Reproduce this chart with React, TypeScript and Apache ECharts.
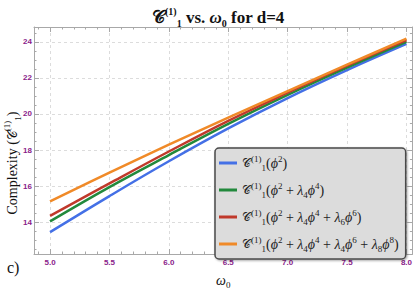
import React, { useEffect, useRef } from 'react';
import * as echarts from 'echarts';

// omega_0 values (x)
const omega = [5.0, 5.5, 6.0, 6.5, 7.0, 7.5, 8.0];
// Complexity values for the four potentials
const cPhi2 = [13.45, 15.45, 17.38, 19.2, 20.88, 22.43, 23.88];
const cPhi4 = [14.05, 15.95, 17.72, 19.45, 21.06, 22.57, 24.0];
const cPhi6 = [14.35, 16.15, 17.92, 19.62, 21.18, 22.68, 24.1];
const cPhi8 = [15.15, 16.75, 18.3, 19.8, 21.27, 22.73, 24.17];

const seriesNames = [
  '𝒞₁⁽¹⁾(ϕ²)',
  '𝒞₁⁽¹⁾(ϕ² + λ₄ϕ⁴)',
  '𝒞₁⁽¹⁾(ϕ² + λ₄ϕ⁴ + λ₆ϕ⁶)',
  '𝒞₁⁽¹⁾(ϕ² + λ₄ϕ⁴ + λ₄ϕ⁶ + λ₈ϕ⁸)',
];
const seriesColors = ['#4470e6', '#22893c', '#c0392b', '#f08a28'];
const seriesData = [cPhi2, cPhi4, cPhi6, cPhi8];

const C = '{c|𝒞}{sup|(1)}{sub|1}';
const phi = (n: number) => `{i|ϕ}{sup|${n}}`;
const lam = (n: number) => `{i|λ}{sub|${n}}`;
const legendRich = [
  `${C}(${phi(2)})`,
  `${C}(${phi(2)} + ${lam(4)}${phi(4)})`,
  `${C}(${phi(2)} + ${lam(4)}${phi(4)} + ${lam(6)}${phi(6)})`,
  `${C}(${phi(2)} + ${lam(4)}${phi(4)} + ${lam(4)}${phi(6)} + ${lam(8)}${phi(8)})`,
];

const SERIF = '"Liberation Serif", "DejaVu Serif", serif';
const SANS = '"Liberation Sans", Arial, sans-serif';
const PURPLE = '#8a1c8a';
const FRAME = '#a8a8a8';

export default function App() {
  const ref = useRef<HTMLDivElement>(null);
  useEffect(() => {
    if (!ref.current) return;
    const chart = echarts.init(ref.current, undefined, { renderer: 'svg' });
    const smallRich = {
      c: { fontSize: 12, fontFamily: SERIF, lineHeight: 18 },
      sup: { fontSize: 9, fontFamily: SERIF, verticalAlign: 'top', lineHeight: 12 },
      sub: { fontSize: 9, fontFamily: SERIF, verticalAlign: 'bottom', lineHeight: 12 },
      i: { fontSize: 14, fontFamily: SERIF, fontStyle: 'italic', lineHeight: 18 },
    };
    const xTick = {
      inside: true,
      length: 5,
      lineStyle: { color: FRAME },
    };
    const option: any = {
      animation: false,
      title: {
        text: '{c|𝒞}{sup|(1)}{sub|1}{b| vs. }{w|ω}{s0|0}{b| for d=4}',
        left: 147,
        top: 1,
        textStyle: {
          fontFamily: SERIF,
          fontWeight: 'bold',
          fontSize: 17,
          color: '#111',
          rich: {
            c: { fontSize: 18, fontFamily: SERIF, lineHeight: 22, color: '#111' },
            sup: { fontSize: 10, fontFamily: SERIF, fontWeight: 'bold', verticalAlign: 'top', lineHeight: 12, color: '#111' },
            sub: { fontSize: 10, fontFamily: SERIF, fontWeight: 'bold', verticalAlign: 'bottom', lineHeight: 10, color: '#111' },
            b: { fontSize: 17, fontFamily: SERIF, fontWeight: 'bold', lineHeight: 22, color: '#111' },
            w: { fontSize: 17, fontFamily: SERIF, fontStyle: 'italic', lineHeight: 22, color: '#111' },
            s0: { fontSize: 10, fontFamily: SERIF, fontWeight: 'bold', verticalAlign: 'bottom', lineHeight: 10, color: '#111' },
          },
        },
      },
      grid: { left: 34, right: 2, top: 27, bottom: 33, containLabel: false },
      xAxis: [
        {
          type: 'value',
          min: 4.865,
          max: 8.05,
          splitNumber: 6,
          position: 'bottom',
          axisLine: { show: true, lineStyle: { color: FRAME } },
          axisTick: xTick,
          minorTick: { show: true, splitNumber: 5, length: 2.5, lineStyle: { color: FRAME } },
          splitLine: { show: true, lineStyle: { type: [3, 3], color: '#dcdcdc' } },
          axisLabel: {
            showMinLabel: false,
            showMaxLabel: false,
            formatter: (v: number) => v.toFixed(1),
            color: PURPLE,
            fontWeight: 'bold',
            fontSize: 8,
            fontFamily: SANS,
            margin: 4,
          },
          name: '{w|ω}{s|0}',
          nameLocation: 'middle',
          nameGap: 17,
          nameTextStyle: {
            rich: {
              w: { fontSize: 14, fontFamily: SERIF, fontStyle: 'italic', color: '#111', lineHeight: 18 },
              s: { fontSize: 9, fontFamily: SERIF, verticalAlign: 'bottom', color: '#111', lineHeight: 12 },
            },
          },
        },
        {
          type: 'value',
          min: 4.865,
          max: 8.05,
          splitNumber: 6,
          position: 'top',
          axisLine: { show: true, lineStyle: { color: FRAME } },
          axisTick: xTick,
          minorTick: { show: true, splitNumber: 5, length: 2.5, lineStyle: { color: FRAME } },
          splitLine: { show: false },
          axisLabel: { show: false },
        },
      ],
      yAxis: [
        {
          type: 'value',
          min: 12.24,
          max: 24.82,
          splitNumber: 6,
          position: 'left',
          axisLine: { show: true, lineStyle: { color: FRAME } },
          axisTick: xTick,
          minorTick: { show: true, splitNumber: 4, length: 2.5, lineStyle: { color: FRAME } },
          splitLine: { show: true, lineStyle: { type: [3, 3], color: '#dcdcdc' } },
          axisLabel: {
            showMinLabel: false,
            showMaxLabel: false,
            formatter: (v: number) => String(Math.round(v)),
            color: PURPLE,
            fontWeight: 'bold',
            fontSize: 8,
            fontFamily: SANS,
            margin: 2,
          },
        },
        {
          type: 'value',
          min: 12.24,
          max: 24.82,
          splitNumber: 6,
          position: 'right',
          axisLine: { show: true, lineStyle: { color: FRAME } },
          axisTick: xTick,
          minorTick: { show: true, splitNumber: 4, length: 2.5, lineStyle: { color: FRAME } },
          splitLine: { show: false },
          axisLabel: { show: false },
        },
      ],
      legend: {
        orient: 'vertical',
        left: 215,
        top: 148,
        icon: 'rect',
        itemWidth: 18,
        itemHeight: 3,
        itemGap: 9,
        padding: [6, 7, 6, 4],
        backgroundColor: '#dcdcdc',
        borderColor: '#4a4a4a',
        borderWidth: 1.5,
        borderRadius: 4,
        shadowColor: 'rgba(0,0,0,0.35)',
        shadowBlur: 2,
        shadowOffsetX: 1,
        shadowOffsetY: 1,
        data: seriesNames,
        formatter: (name: string) => legendRich[seriesNames.indexOf(name)],
        textStyle: {
          fontFamily: SERIF,
          fontSize: 14,
          color: '#222',
          lineHeight: 18,
          rich: smallRich,
        },
      },
      graphic: [
        {
          type: 'text',
          x: 12,
          y: 163,
          rotation: Math.PI / 2,
          style: {
            text: '{t|Complexity (}{c|𝒞}{sup|(1)}{sub|1}{t|)}',
            align: 'center',
            verticalAlign: 'middle',
            fill: '#111',
            rich: {
              t: { fontSize: 14, fontFamily: SERIF, lineHeight: 20, fill: '#111' },
              c: { fontSize: 13, fontFamily: SERIF, lineHeight: 20, fill: '#111' },
              sup: { fontSize: 9, fontFamily: SERIF, verticalAlign: 'top', lineHeight: 12, fill: '#111' },
              sub: { fontSize: 9, fontFamily: SERIF, verticalAlign: 'bottom', lineHeight: 12, fill: '#111' },
            },
          },
        },
        {
          type: 'text',
          x: 7,
          y: 267,
          style: {
            text: 'c)',
            font: `16px ${SERIF}`,
            fill: '#111',
            verticalAlign: 'middle',
          },
        },
      ],
      series: seriesNames.map((name, k) => ({
        name,
        type: 'line',
        xAxisIndex: 0,
        yAxisIndex: 0,
        data: omega.map((x, i) => [x, seriesData[k][i]]),
        showSymbol: false,
        smooth: 0.4,
        color: seriesColors[k],
        lineStyle: { width: 2.5, color: seriesColors[k] },
        z: 2 + k,
      })),
    };
    chart.setOption(option);
    return () => chart.dispose();
  }, []);
  return (
    <div
      ref={ref}
      style={{ position: 'fixed', left: 0, top: 0, width: 415, height: 294, background: '#fff' }}
    />
  );
}
